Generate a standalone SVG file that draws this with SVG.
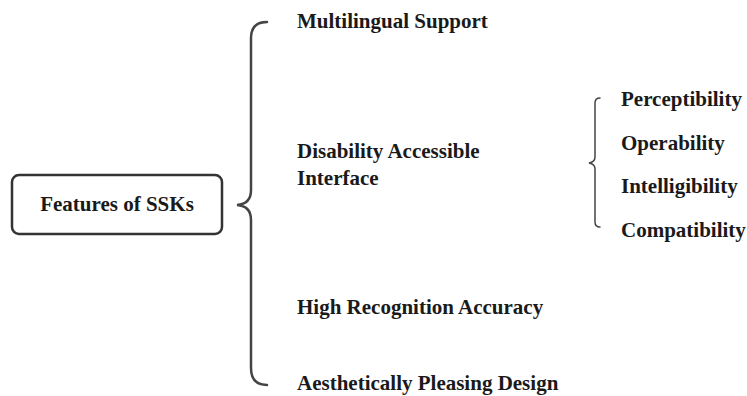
<svg xmlns="http://www.w3.org/2000/svg" width="747" height="396" viewBox="0 0 747 396">
<style>
.t{font-family:'Times New Roman','Liberation Serif',Tinos,serif;font-weight:bold;font-size:21px;fill:#1a1a1a}
.br{fill:none;stroke:#444;stroke-width:2.5;stroke-linecap:round}
.br2{fill:none;stroke:#444;stroke-width:1.5;stroke-linecap:round}
</style>
<rect width="747" height="396" fill="#fff"/>
<g id="root">
<rect x="12" y="175" width="210" height="59" rx="7" fill="#fff" stroke="#333" stroke-width="2.5"/>
<text class="t" x="117" y="211" text-anchor="middle">Features of SSKs</text>
</g>
<g id="connectors">
<path class="br" d="M267,22 Q251,22 251,38 L251,190 Q251,204 237,205 Q251,206 251,220 L251,368 Q251,385 267,385"/>
<path class="br2" d="M600,98 Q595,98 595,103 L595,157 Q595,162 589,163 Q595,164 595,169 L595,222 Q595,227 600,227"/>
</g>
<g id="n1"><text class="t" x="297" y="28">Multilingual Support</text></g>
<g id="n2"><text class="t" x="297" y="158">Disability Accessible</text><text class="t" x="297" y="185">Interface</text></g>
<g id="n3"><text class="t" x="297" y="314">High Recognition Accuracy</text></g>
<g id="n4"><text class="t" x="297" y="390">Aesthetically Pleasing Design</text></g>
<g id="s1"><text class="t" x="621" y="106">Perceptibility</text></g>
<g id="s2"><text class="t" x="621" y="150">Operability</text></g>
<g id="s3"><text class="t" x="621" y="193">Intelligibility</text></g>
<g id="s4"><text class="t" x="621" y="237">Compatibility</text></g>
</svg>
